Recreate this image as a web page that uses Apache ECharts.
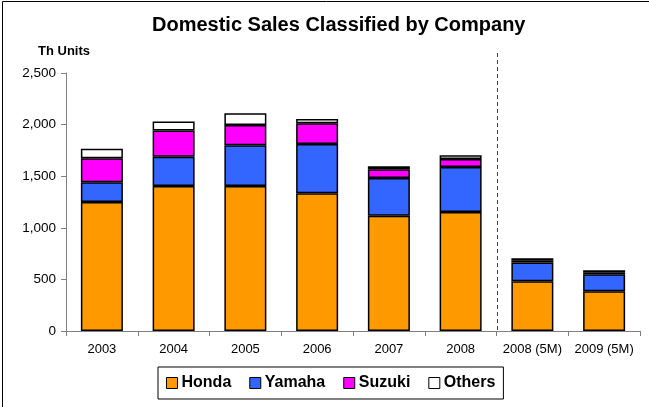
<!DOCTYPE html>
<html><head><meta charset="utf-8">
<script src="https://cdn.jsdelivr.net/npm/echarts@6/dist/echarts.min.js"></script>
<style>html,body{margin:0;padding:0;background:#fff}#c{width:649px;height:407px}</style>
</head><body><div id="c"></div>
<script>
const categories = ['2003','2004','2005','2006','2007','2008','2008 (5M)','2009 (5M)'];
const honda  = [1250,1405,1405,1334,1117,1152,482,385];
const yamaha = [191,284,395,479,365,437,182,165];
const suzuki = [233,253,197,200,85,78,22,20];
const others = [93,87,113,42,29,36,20,19];
const yTicks = [0,500,1000,1500,2000,2500];

const chart = echarts.init(document.getElementById('c'));
const font = 'Arial, "Liberation Sans", sans-serif';
function s(name, data, color){
  return {name, type:'bar', stack:'t', data, barWidth:42,
    itemStyle:{color, borderColor:'#000', borderWidth:1.5}};
}
chart.setOption({
  animation:false,
  title:[{text:'Domestic Sales Classified by Company', left:147, top:10,
    textStyle:{fontFamily:font, fontSize:20, fontWeight:'bold', color:'#000'}},
    {text:'Th Units', left:33, top:40,
    textStyle:{fontFamily:font, fontSize:13, fontWeight:'bold', color:'#000'}}],
  grid:{left:66, right:9, top:73, bottom:76},
  legend:{top:367, left:158, icon:'rect', itemWidth:11, itemHeight:11, itemGap:18,
    borderColor:'#000', borderWidth:1, padding:[8,8,8,8],
    textStyle:{fontFamily:font, fontSize:16, fontWeight:'bold', color:'#000', padding:[0,0,0,-1]},
    itemStyle:{borderColor:'#000', borderWidth:1}},
  xAxis:{type:'category', data:categories,
    axisLine:{lineStyle:{color:'#808080', width:1}},
    axisTick:{show:true, alignWithLabel:false, length:5, lineStyle:{color:'#808080'}},
    axisLabel:{interval:0, fontFamily:font, fontSize:13, color:'#000', margin:12}},
  yAxis:{type:'value', min:0, max:2500, interval:500,
    axisLine:{show:true, lineStyle:{color:'#808080'}},
    axisTick:{show:true, length:5, lineStyle:{color:'#808080'}},
    splitLine:{show:false},
    axisLabel:{fontFamily:font, fontSize:13.5, color:'#000', margin:10,
      formatter:v=>v.toLocaleString('en-US')}},
  series:[s('Honda',honda,'#FF9900'), s('Yamaha',yamaha,'#3366FF'), s('Suzuki',suzuki,'#FF00FF'), s('Others',others,'#FFFFFF')]
});
const c5 = chart.convertToPixel({xAxisIndex:0}, categories[5]);
const c6 = chart.convertToPixel({xAxisIndex:0}, categories[6]);
const xb = Math.round((c5 + c6) / 2) + 0.5;
const yb = chart.convertToPixel({yAxisIndex:0}, 0);
chart.setOption({graphic:[
  {type:'line', shape:{x1:xb, y1:53, x2:xb, y2:yb}, style:{stroke:'#404040', lineWidth:1, lineDash:[4,3]}, z:10},
  {type:'rect', shape:{x:2.5, y:1.5, width:660, height:420}, style:{fill:'none', stroke:'#000', lineWidth:1}, z:0}
]});
</script></body></html>
